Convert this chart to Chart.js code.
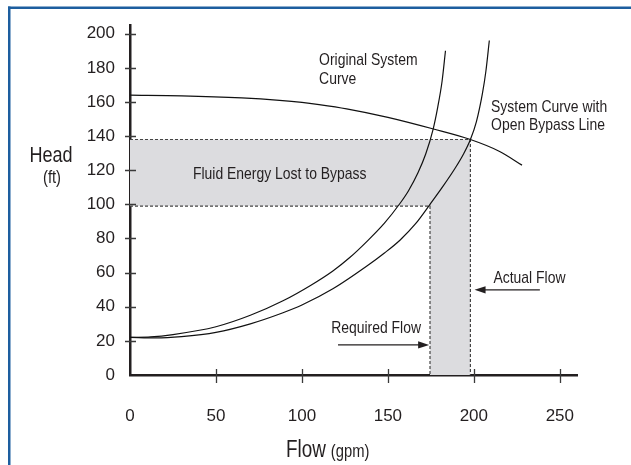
<!DOCTYPE html>
<html>
<head>
<meta charset="utf-8">
<script src="https://cdn.jsdelivr.net/npm/chart.js@4.4.1/dist/chart.umd.min.js"></script>
<style>
  html, body { margin: 0; padding: 0; background: #fff; }
  #wrap { width: 631px; height: 465px; }
</style>
</head>
<body>
<div id="wrap"><canvas id="pumpChart" width="631" height="465"></canvas></div>
<script>
// Axis ticks
const flowTicks = [0, 50, 100, 150, 200, 250];
const headTicks = [0, 20, 40, 60, 80, 100, 120, 140, 160, 180, 200];

// Pump curve
const pumpFlow = [0, 30, 65, 87, 100, 110, 126, 150, 176, 198, 215, 228];
const pumpHead = [164, 163.6, 162.4, 161, 159.8, 158.5, 156, 151, 144.3, 138, 131, 123];

// Original system curve
const origFlow = [0, 12, 25, 50, 70, 89, 105, 118, 128, 138, 148, 157, 162, 167.5, 172, 176.3, 179, 181.5, 183.5];
const origHead = [22, 22.3, 23.7, 28.3, 35, 43.5, 52.5, 61, 69, 78.5, 89, 100.5, 108, 118.5, 129.5, 144, 157, 172, 190];

// System curve with open bypass line
const bypassFlow = [0, 15, 30, 50, 70, 89, 100, 118, 138, 148, 157, 166, 174.5, 182, 189, 194, 198, 201.5, 205, 207, 209];
const bypassHead = [22, 21.7, 22.5, 25, 30, 36.5, 41, 50.5, 64, 71.5, 79, 88.5, 100, 110.5, 121, 129.5, 138, 148.5, 165, 178, 196];

// Operating points
const requiredFlow = 174.5;
const actualFlow = 198;
const requiredHead = 99;
const actualHead = 138;

const FONT = '"Liberation Sans", Arial, sans-serif';
const INK = '#231f20';

function pts(xs, ys) {
    return xs.map((x, i) => ({ x: x, y: ys[i] }));
}

const curveStyle = {
    showLine: true,
    pointRadius: 0,
    borderColor: '#111',
    borderWidth: 1.2,
    cubicInterpolationMode: 'monotone',
    fill: false
};

const dashStyle = {
    showLine: true,
    pointRadius: 0,
    borderColor: '#444',
    borderWidth: 1.2,
    borderDash: [3, 2],
    tension: 0,
    fill: false
};

// narrow text, like the condensed face of the original
function narrowText(ctx, str, x, y, size, align) {
    ctx.save();
    ctx.font = size + 'px ' + FONT;
    ctx.translate(x, y);
    ctx.scale(0.82, 1);
    ctx.textAlign = align || 'left';
    ctx.textBaseline = 'alphabetic';
    ctx.fillText(str, 0, 0);
    const w = ctx.measureText(str).width * 0.82;
    ctx.restore();
    return w;
}

const extras = {
    id: 'extras',
    beforeDraw(chart) {
        const ctx = chart.ctx;
        ctx.save();
        ctx.fillStyle = '#fff';
        ctx.fillRect(0, 0, chart.width, chart.height);
        // blue frame
        ctx.fillStyle = '#1d5e9f';
        ctx.fillRect(8, 6.5, chart.width - 8, 2.5);
        ctx.fillRect(8, 6.5, 2.5, chart.height - 6.5);
        ctx.restore();
    },
    beforeDatasetsDraw(chart) {
        const ctx = chart.ctx;
        const x = chart.scales.x, y = chart.scales.y;
        ctx.save();
        ctx.fillStyle = '#dcdcdf';
        ctx.beginPath();
        ctx.moveTo(x.getPixelForValue(0), y.getPixelForValue(actualHead));
        ctx.lineTo(x.getPixelForValue(actualFlow), y.getPixelForValue(actualHead));
        ctx.lineTo(x.getPixelForValue(actualFlow), y.getPixelForValue(0));
        ctx.lineTo(x.getPixelForValue(requiredFlow), y.getPixelForValue(0));
        ctx.lineTo(x.getPixelForValue(requiredFlow), y.getPixelForValue(requiredHead));
        ctx.lineTo(x.getPixelForValue(0), y.getPixelForValue(requiredHead));
        ctx.closePath();
        ctx.fill();
        ctx.restore();
    },
    afterDraw(chart) {
        const ctx = chart.ctx;
        const x = chart.scales.x, y = chart.scales.y;
        const px = v => x.getPixelForValue(v);
        const py = v => y.getPixelForValue(v);
        ctx.save();

        // crossing tick marks
        ctx.strokeStyle = '#3a3a3a';
        ctx.lineWidth = 1.3;
        ctx.beginPath();
        y.ticks.forEach(t => {
            if (t.value === 0) return;
            const yy = Math.round(py(t.value)) + 0.5;
            ctx.moveTo(px(0) - 5, yy);
            ctx.lineTo(px(0) + 6, yy);
        });
        x.ticks.forEach(t => {
            if (t.value === 0) return;
            const xx = Math.round(px(t.value)) + 0.5;
            ctx.moveTo(xx, py(0) - 6);
            ctx.lineTo(xx, py(0) + 8);
        });
        ctx.stroke();

        // axis titles
        ctx.fillStyle = INK;
        narrowText(ctx, 'Head', 51, 162, 22, 'center');
        narrowText(ctx, '(ft)', 52, 183, 18, 'center');
        const fw = narrowText(ctx, 'Flow', 286, 457, 23, 'left');
        narrowText(ctx, '(gpm)', 286 + fw + 5, 457, 18, 'left');

        // annotations
        narrowText(ctx, 'Original System', px(110), py(181.5), 17);
        narrowText(ctx, 'Curve', px(110), py(170.5), 17);
        narrowText(ctx, 'System Curve with', px(210), py(154.2), 17);
        narrowText(ctx, 'Open Bypass Line', px(210), py(143.4), 17);
        narrowText(ctx, 'Fluid Energy Lost to Bypass', px(36.6), py(115), 17);
        narrowText(ctx, 'Actual Flow', px(211.4), py(53.7), 17);
        narrowText(ctx, 'Required Flow', px(117), py(24.7), 17);

        // arrows
        function arrow(x0, y0, x1, y1) {
            const a = Math.atan2(y1 - y0, x1 - x0);
            const L = 11, W = 3.6;
            ctx.strokeStyle = INK;
            ctx.fillStyle = INK;
            ctx.lineWidth = 1.3;
            ctx.beginPath();
            ctx.moveTo(x0, y0);
            ctx.lineTo(x1 - L * Math.cos(a) * 0.8, y1 - L * Math.sin(a) * 0.8);
            ctx.stroke();
            ctx.beginPath();
            ctx.moveTo(x1, y1);
            ctx.lineTo(x1 - L * Math.cos(a) + W * Math.sin(a), y1 - L * Math.sin(a) - W * Math.cos(a));
            ctx.lineTo(x1 - L * Math.cos(a) - W * Math.sin(a), y1 - L * Math.sin(a) + W * Math.cos(a));
            ctx.closePath();
            ctx.fill();
        }
        arrow(px(238.4), py(49.9), px(200.4), py(49.9));
        arrow(px(121), py(17.6), px(174), py(17.6));

        ctx.restore();
    }
};

const ctx = document.getElementById('pumpChart').getContext('2d');

const pumpChart = new Chart(ctx, {
    type: 'scatter',
    data: {
        datasets: [
            Object.assign({ label: 'Pump Curve', data: pts(pumpFlow, pumpHead) }, curveStyle),
            Object.assign({ label: 'Original System Curve', data: pts(origFlow, origHead) }, curveStyle),
            Object.assign({ label: 'System Curve with Open Bypass Line', data: pts(bypassFlow, bypassHead) }, curveStyle),
            Object.assign({ label: 'Actual', data: [{ x: 0, y: actualHead }, { x: actualFlow, y: actualHead }, { x: actualFlow, y: 0 }] }, dashStyle),
            Object.assign({ label: 'Required', data: [{ x: 0, y: requiredHead }, { x: requiredFlow, y: requiredHead }, { x: requiredFlow, y: 0 }] }, dashStyle)
        ]
    },
    options: {
        responsive: false,
        animation: false,
        devicePixelRatio: 1,
        layout: { padding: { top: 22, right: 54, left: 0, bottom: 0 } },
        plugins: {
            legend: { display: false },
            tooltip: { enabled: false }
        },
        scales: {
            x: {
                type: 'linear',
                min: 0,
                max: 260,
                afterFit(scale) { scale.height = 90; },
                afterBuildTicks(scale) { scale.ticks = flowTicks.map(v => ({ value: v })); },
                ticks: {
                    padding: 31,
                    color: INK,
                    font: { family: FONT, size: 17 }
                },
                grid: { display: false, drawTicks: false },
                border: { display: true, color: INK, width: 2.5 }
            },
            y: {
                type: 'linear',
                min: 0,
                max: 205,
                afterFit(scale) { scale.width = 130; },
                afterBuildTicks(scale) { scale.ticks = headTicks.map(v => ({ value: v })); },
                ticks: {
                    padding: 15,
                    color: INK,
                    font: { family: FONT, size: 17 }
                },
                grid: { display: false, drawTicks: false },
                border: { display: true, color: INK, width: 2.5 }
            }
        }
    },
    plugins: [extras]
});
</script>
</body>
</html>
